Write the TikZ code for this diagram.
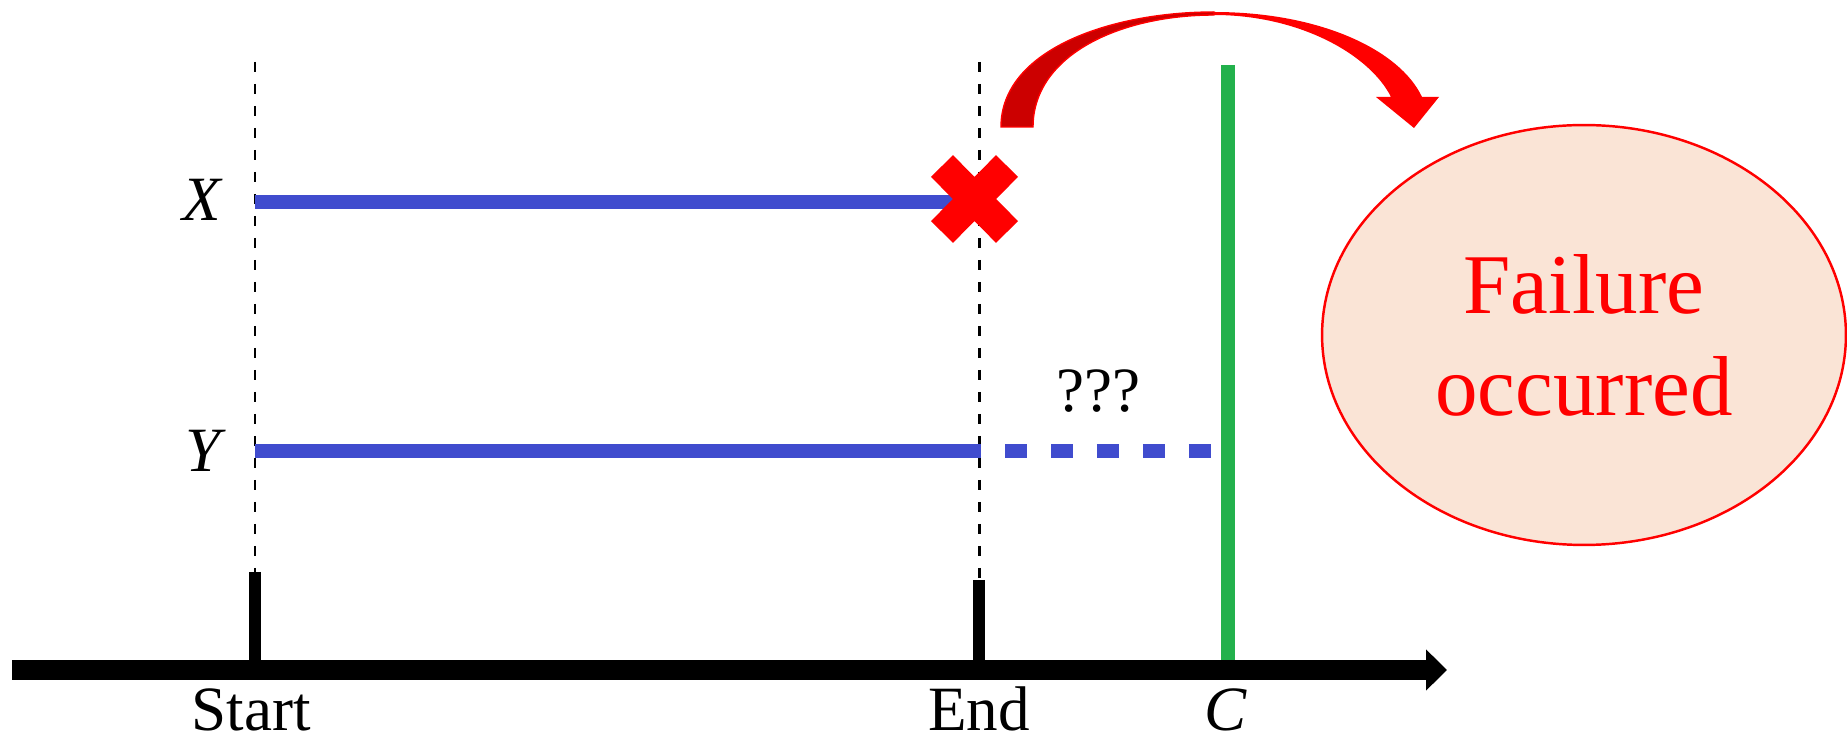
\documentclass[tikz,border=0pt]{standalone}
\usepackage{fontspec}
\setmainfont{Liberation Serif}
\usetikzlibrary{shapes.geometric,arrows.meta}
\definecolor{cblue}{RGB}{64,76,206}
\definecolor{cgreen}{RGB}{34,177,76}
\definecolor{cpeach}{RGB}{250,228,214}
\definecolor{cdark}{RGB}{204,0,0}
\tikzset{timeline/.style={x=0.02cm,y=-0.02cm,font=\fontsize{35.9}{43}\selectfont},
  guide/.style={black,line width=1.7pt,dash pattern=on 0.2cm off 0.24cm},
  tickmark/.style={black,line width=7pt},
  run/.style={cblue,line width=8.5pt},
  lbl/.style={anchor=base,inner sep=0pt},
  outcome/.style={ellipse,draw=red,fill=cpeach,line width=1.4pt,minimum width=10.48cm,
    minimum height=8.4cm,inner sep=0pt,text=red,align=center,font=\fontsize{48.4}{58}\selectfont}}

\begin{document}
\begin{tikzpicture}[timeline]
    \useasboundingbox (0,0) rectangle (1847,742);
    \coordinate (axL) at (12,670); \coordinate (axR) at (1447,670);
    \coordinate (tS) at (255,670); \coordinate (tE) at (979,670);
    \coordinate (tSup) at (255,572); \coordinate (tEup) at (979,580);
    \coordinate (gS) at (255,62); \coordinate (gE) at (979,62);
    \coordinate (cTop) at (1228,65); \coordinate (cBot) at (1228,660);
    \coordinate (xA) at (255,202); \coordinate (xB) at (960,202);
    \coordinate (yA) at (255,451); \coordinate (yB) at (981,451);
    \coordinate (yC) at (1005,451); \coordinate (yD) at (1212,451);
    \draw[guide] (gS) -- (tSup); % start guide
    \draw[guide] (gE) -- (tEup); % end guide
    \draw[tickmark] (tSup) -- (tS);
    \draw[tickmark] (tEup) -- (tE);
    \draw[cgreen,line width=8.5pt] (cTop) -- (cBot); % C line
    \draw[black,line width=11.4pt,-{Triangle[length=0.42cm 0,width=0.8cm 0]}] (axL) -- (axR); % time axis
    \draw[run] (xA) -- (xB); % X run
    \draw[run] (yA) -- (yB); % Y run
    \draw[run,dash pattern=on 0.44cm off 0.48cm] (yC) -- (yD); % Y unknown
    \draw[red,line width=17.6pt] (942,166) -- (1007,232) (942,232) -- (1007,166); % failure cross
    \node[lbl] (lStart) at (251,731) {Start};
    \node[lbl] (lEnd) at (979,731) {End};
    \node[lbl] (lC) at (1226,731) {\itshape C};
    \node[lbl] (lX) at (202,221) {\itshape X};
    \node[lbl] (lY) at (203,472) {\itshape Y};
    \node[lbl] (lQ) at (1098,412) {???};
    \node[outcome] (failure) at (1584,335) {Failure\\occurred};
    % curved block arrow
    \fill[red] (1001,127) .. controls (1001,50) and (1110,12) .. (1214,12)
      .. controls (1320,12) and (1400,50) .. (1422,97) -- (1439,97) -- (1414,128) -- (1376,97) -- (1391,97)
      .. controls (1370,55) and (1300,15) .. (1214,15) .. controls (1120,15) and (1033,55) .. (1033,127) -- cycle;
    \filldraw[fill=cdark,draw=red,line width=0.8pt] (1001,127) .. controls (1001,50) and (1110,12) .. (1214,12)
      -- (1214,15) .. controls (1120,15) and (1033,55) .. (1033,127) -- cycle;
\end{tikzpicture}
\end{document}
